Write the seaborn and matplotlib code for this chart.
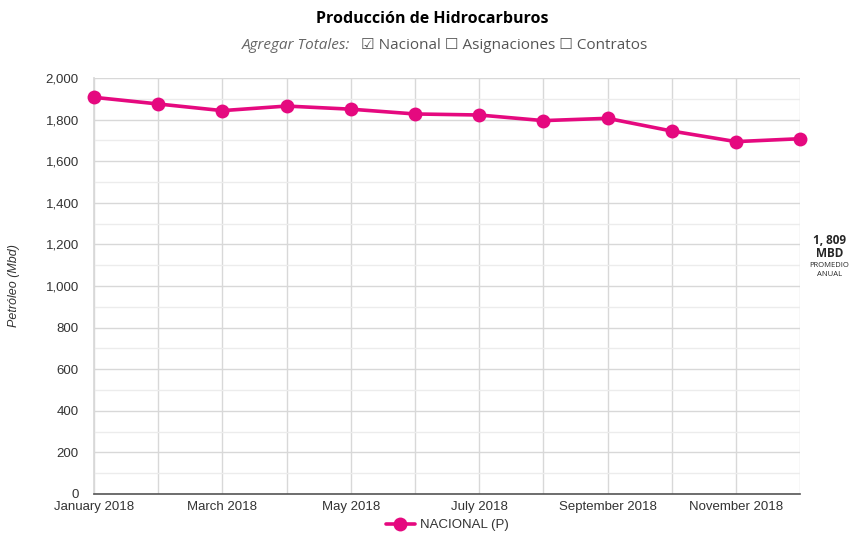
import pandas as pd
import seaborn as sns
import matplotlib.pyplot as plt
from matplotlib.ticker import MultipleLocator, FuncFormatter

# Monthly oil production, thousand barrels per day
months = ["January 2018", "February 2018", "March 2018", "April 2018", "May 2018", "June 2018",
          "July 2018", "August 2018", "September 2018", "October 2018", "November 2018", "December 2018"]
nacional = [1907, 1875, 1843, 1865, 1850, 1827, 1822, 1795, 1806, 1745, 1694, 1708]
promedio = "1, 809"

df = pd.DataFrame({"mes": range(len(months)), "valor": nacional, "serie": "NACIONAL (P)"})

sns.set_theme(style="white")
plt.rcParams['font.family'] = ['Liberation Sans', 'DejaVu Sans']

color = '#e5097f'

fig = plt.figure(figsize=(8.64, 5.4), dpi=100)
ax = fig.add_axes([0.1088, 0.0852, 0.8172, 0.7704])

sns.lineplot(data=df, x="mes", y="valor", hue="serie", palette=[color], marker="o",
             markersize=10, linewidth=2.6, markeredgewidth=0, ax=ax, zorder=5, clip_on=False)

ax.set_xlim(0, len(months) - 1)
ax.set_ylim(0, 2000)
ax.yaxis.set_major_locator(MultipleLocator(200))
ax.yaxis.set_minor_locator(MultipleLocator(100))
ax.yaxis.set_major_formatter(FuncFormatter(lambda v, p: f"{int(v):,}"))
ax.set_xticks(range(len(months)))
ax.set_xticklabels([m if i % 2 == 0 else "" for i, m in enumerate(months)])
ax.grid(axis='y', which='major', color='#d8d8d8', linewidth=1)
ax.grid(axis='y', which='minor', color='#ececec', linewidth=1)
ax.grid(axis='x', which='major', color='#d8d8d8', linewidth=1)
ax.tick_params(axis='both', which='both', length=0, labelsize=9.5, colors='#333333')
ax.tick_params(axis='x', pad=5)
ax.tick_params(axis='y', pad=11)
for s in ['top', 'right']:
    ax.spines[s].set_visible(False)
ax.spines['left'].set_color('#d8d8d8')
ax.spines['bottom'].set_color('#555555')
ax.spines['bottom'].set_linewidth(1.2)

ax.set_xlabel("")
ax.set_ylabel("Petróleo (Mbd)", fontsize=9, style='italic', color='#333333', labelpad=18)

leg = ax.legend(loc='center', bbox_to_anchor=(0.5, -0.075), frameon=False,
                fontsize=9.5, handlelength=2.2, handletextpad=0.4)
for t in leg.get_texts():
    t.set_color('#333333')

# Titles
fig.text(0.5, 0.965, "Producción de Hidrocarburos", ha='center', va='center', fontsize=11.5,
         fontweight='bold', family=['Open Sans', 'DejaVu Sans'], color='black')
fig.text(0.405, 0.916, "Agregar Totales:", ha='right', va='center', fontsize=11,
         style='italic', family=['Open Sans', 'DejaVu Sans'], color='#666666')
fig.text(0.418, 0.916, "\u2611 Nacional \u2610 Asignaciones \u2610 Contratos", ha='left', va='center',
         fontsize=11, family=['Open Sans', 'DejaVu Sans'], color='#555555')

# Annual average note
fig.text(0.960, 0.555, promedio, ha='center', va='center', fontsize=8.5, fontweight='bold',
         family=['Open Sans', 'DejaVu Sans'])
fig.text(0.960, 0.530, "MBD", ha='center', va='center', fontsize=8.5, fontweight='bold',
         family=['Open Sans', 'DejaVu Sans'])
fig.text(0.960, 0.508, "PROMEDIO", ha='center', va='center', fontsize=5.5,
         family=['Open Sans', 'DejaVu Sans'])
fig.text(0.960, 0.492, "ANUAL", ha='center', va='center', fontsize=5.5,
         family=['Open Sans', 'DejaVu Sans'])

fig.savefig("out.png", dpi=100)
